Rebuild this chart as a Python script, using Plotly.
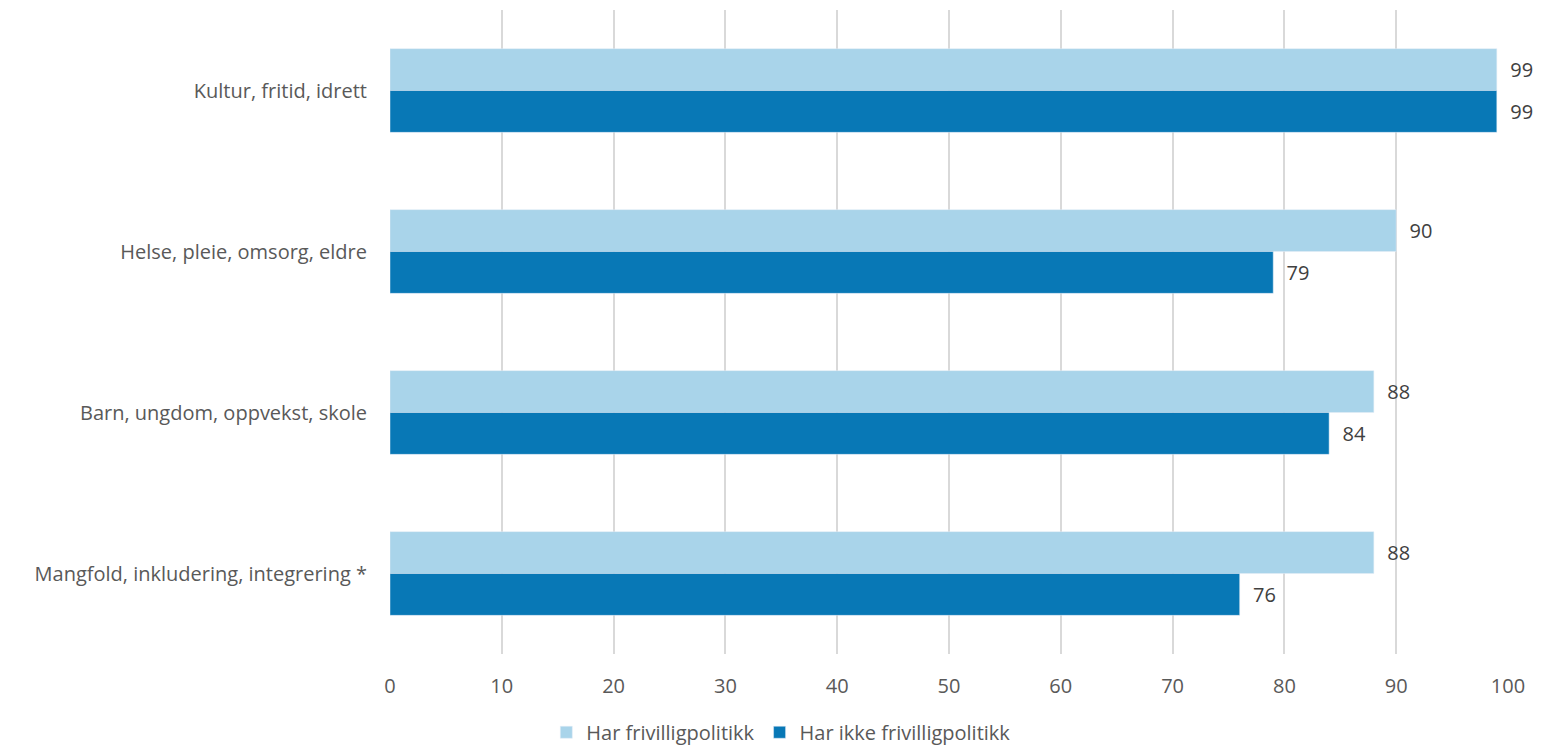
import plotly.graph_objects as go

categories = ["Kultur, fritid, idrett", "Helse, pleie, omsorg, eldre",
              "Barn, ungdom, oppvekst, skole", "Mangfold, inkludering, integrering *"]
har = [99, 90, 88, 88]
har_ikke = [99, 79, 84, 76]
series_names = ["Har frivilligpolitikk", "Har ikke frivilligpolitikk"]
tick_vals = [0, 10, 20, 30, 40, 50, 60, 70, 80, 90, 100]

FONT = "Open Sans"
TXT = "#595959"

fig = go.Figure()
fig.add_trace(go.Bar(y=categories, x=har, name=series_names[0], orientation="h",
                     marker_color="#a9d4ea", texttemplate="  %{x}", textposition="outside",
                     textfont=dict(color="#404040", size=20, family=FONT), cliponaxis=False))
fig.add_trace(go.Bar(y=categories, x=har_ikke, name=series_names[1], orientation="h",
                     marker_color="#0878b6", texttemplate="  %{x}", textposition="outside",
                     textfont=dict(color="#404040", size=20, family=FONT), cliponaxis=False))

fig.update_layout(
    width=1526, height=745,
    margin=dict(l=382, r=26, t=2, b=98),
    barmode="group", bargap=0.48, bargroupgap=0,
    plot_bgcolor="white", paper_bgcolor="white",
    font=dict(family=FONT, color=TXT, size=20),
    xaxis=dict(range=[0, 100], tickvals=tick_vals, showgrid=True, gridcolor="#d9d9d9",
               gridwidth=2, zeroline=False, showline=False, ticks="",
               tickfont=dict(size=20, color=TXT), ticklabelstandoff=18),
    yaxis=dict(autorange="reversed", showgrid=False, zeroline=False, showline=False,
               ticks="", tickfont=dict(size=20, color=TXT), ticklabelstandoff=22),
    legend=dict(orientation="h", x=0.35, xanchor="center", y=-0.150, yanchor="bottom",
                font=dict(size=20, color=TXT), traceorder="normal"),
    uniformtext=dict(mode=False),
)
fig.write_html("out.html")
